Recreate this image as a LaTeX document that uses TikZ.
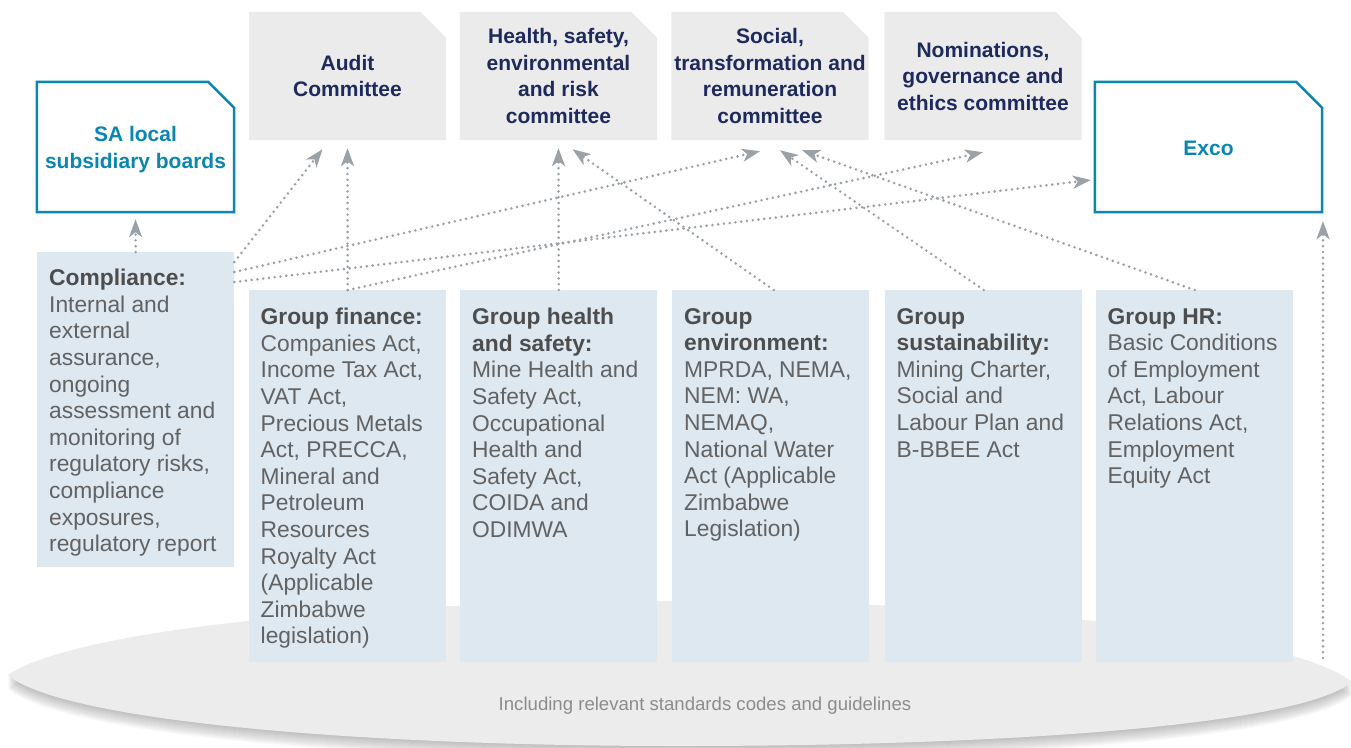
\documentclass[tikz,border=0pt]{standalone}
\usepackage{fontspec}
\setmainfont{Liberation Sans}
\usetikzlibrary{arrows.meta,calc}
\pgfdeclarelayer{bg}
\pgfsetlayers{bg,main}
\definecolor{boardblue}{HTML}{0A87B0}
\definecolor{navy}{HTML}{1F2A5C}
\definecolor{comgray}{HTML}{EBEBEB}
\definecolor{lowblue}{HTML}{DDE8F1}
\definecolor{txtgray}{HTML}{626262}
\definecolor{headgray}{HTML}{4D4D4D}
\definecolor{arrgray}{HTML}{9AA2A8}
\definecolor{platgray}{HTML}{ECECEC}
\definecolor{capgray}{HTML}{8C8C8C}
\newcommand\CutShape[2]{%
  \begin{pgfonlayer}{bg}
  \path[#2] (#1.south west) -- (#1.north west) -- ($(#1.north east)+(-26,0)$)
     -- ($(#1.north east)+(0,26)$) -- (#1.south east) -- cycle;
  \end{pgfonlayer}}
\newcommand\PlatPath{(8,675) .. controls (70,632) and (340,601) .. (679,601)
  .. controls (1018,601) and (1295,636) .. (1352,682)
  .. controls (1300,725) and (1010,746) .. (679,746)
  .. controls (350,746) and (60,720) .. (8,675) -- cycle}
\begin{document}
\begin{tikzpicture}[x=1pt,y=-1pt,
  combox/.style={rectangle, inner sep=0pt, minimum width=197pt, minimum height=128pt,
     align=center, text=navy, font=\fontsize{21}{26.5}\selectfont\bfseries},
  boardbox/.style={rectangle, inner sep=0pt, minimum height=130pt},
  boardtext/.style={align=center, inner sep=0pt, text=boardblue,
     font=\fontsize{21}{26.5}\selectfont\bfseries},
  comfill/.style={fill=comgray},
  boardline/.style={draw=boardblue, line width=2.5pt, fill=white},
  lowbox/.style={rectangle, fill=lowblue, inner sep=0pt, minimum width=197pt,
     minimum height=372pt, anchor=north west},
  body/.style={anchor=north west, inner sep=0pt, align=left, text=txtgray,
     font=\fontsize{22.8}{26.6}\selectfont},
  conn/.style={draw=arrgray, line width=2.9pt, line cap=round,
     dash pattern=on 0pt off 5.8pt,
     -{Stealth[length=18pt,width=13pt,inset=5pt]}}
]
\useasboundingbox (0,0) rectangle (1351,747);

% platform
\begin{pgfonlayer}{bg}
\foreach \i in {1,...,14}{
  \fill[black,opacity=0.018,shift={(0,\i)}] \PlatPath;
}
\fill[platgray] \PlatPath;
\end{pgfonlayer}
\node[font=\fontsize{18.6}{20}\selectfont, text=capgray] (cap) at (705,706)
  {Including relevant standards codes and guidelines};

% committees
\node[combox] (audit) at (347.5,76) {Audit\\Committee};
\node[combox] (hsec) at (558.5,76) {Health, safety,\\environmental\\and risk\\committee};
\node[combox] (strc) at (770,76) {Social,\\transformation and\\remuneration\\committee};
\node[combox] (ngec) at (983,76) {Nominations,\\governance and\\ethics committee};
\CutShape{audit}{comfill}
\CutShape{hsec}{comfill}
\CutShape{strc}{comfill}
\CutShape{ngec}{comfill}

\node[boardbox, minimum width=197pt] (sab) at (135.5,147) {};
\node[boardbox, minimum width=227pt] (exco) at (1208.5,147) {};
\CutShape{sab}{boardline}
\CutShape{exco}{boardline}
\node[boardtext] (sabt) at ($(sab.center)+(0,2.5)$) {SA local\\subsidiary boards};
\node[boardtext] (excot) at ($(exco.center)+(0,1.5)$) {Exco};

% lower boxes
\node[lowbox, minimum height=315pt] (comp) at (37,252) {};
\node[lowbox] (fin) at (249,290) {};
\node[lowbox] (hs) at (460,290) {};
\node[lowbox] (env) at (672,290) {};
\node[lowbox] (sus) at (885,290) {};
\node[lowbox] (hr) at (1096,290) {};

\node[body] (comptxt) at ($(comp.north west)+(12,17)$)
 {\textcolor{headgray}{\bfseries Compliance:}\\Internal and\\external\\assurance,\\ongoing\\assessment and\\monitoring of\\regulatory risks,\\compliance\\exposures,\\regulatory report};
\node[body] (fintxt) at ($(fin.north west)+(11.5,18)$)
 {\textcolor{headgray}{\bfseries Group finance:}\\Companies Act,\\Income Tax Act,\\VAT Act,\\Precious Metals\\Act, PRECCA,\\Mineral and\\Petroleum\\Resources\\Royalty Act\\(Applicable\\Zimbabwe\\legislation)};
\node[body] (hstxt) at ($(hs.north west)+(12,18)$)
 {\textcolor{headgray}{\bfseries Group health}\\\textcolor{headgray}{\bfseries and safety:}\\Mine Health and\\Safety Act,\\Occupational\\Health and\\Safety Act,\\COIDA and\\ODIMWA};
\node[body] (envtxt) at ($(env.north west)+(12,18)$)
 {\textcolor{headgray}{\bfseries Group}\\\textcolor{headgray}{\bfseries environment:}\\MPRDA, NEMA,\\NEM: WA,\\NEMAQ,\\National Water\\Act (Applicable\\Zimbabwe\\Legislation)};
\node[body] (sustxt) at ($(sus.north west)+(11.5,18)$)
 {\textcolor{headgray}{\bfseries Group}\\\textcolor{headgray}{\bfseries sustainability:}\\Mining Charter,\\Social and\\Labour Plan and\\B-BBEE Act};
\node[body] (hrtxt) at ($(hr.north west)+(11.5,18)$)
 {\textcolor{headgray}{\bfseries Group HR:}\\Basic Conditions\\of Employment\\Act, Labour\\Relations Act,\\Employment\\Equity Act};

% connectors
\coordinate (plat) at (1323,658);
\draw[conn] (comp.north) -- ($(sab.south)+(0,7)$);
\draw[conn] ($(comp.north east)+(0,10)$) -- ($(audit.south)+(-25,9)$);
\draw[conn] (fin.north) -- ($(audit.south)+(0,8)$);
\draw[conn] ($(comp.north east)+(0,20)$) -- ($(strc.south)+(-10,11)$);
\draw[conn] ($(comp.north east)+(0,30)$) -- ($(exco.west)+(-4,33)$);
\draw[conn] (fin.north) -- ($(ngec.south)+(0,12)$);
\draw[conn] (hs.north) -- ($(hsec.south)+(0,8)$);
\draw[conn] ($(env.north)+(3,0)$) -- ($(hsec.south)+(14,9)$);
\draw[conn] (sus.north) -- ($(strc.south)+(10,10)$);
\draw[conn] (hr.north) -- ($(strc.south)+(32,10)$);
\draw[conn] (plat) -- ($(exco.south)+(114.5,9)$);
\end{tikzpicture}
\end{document}
